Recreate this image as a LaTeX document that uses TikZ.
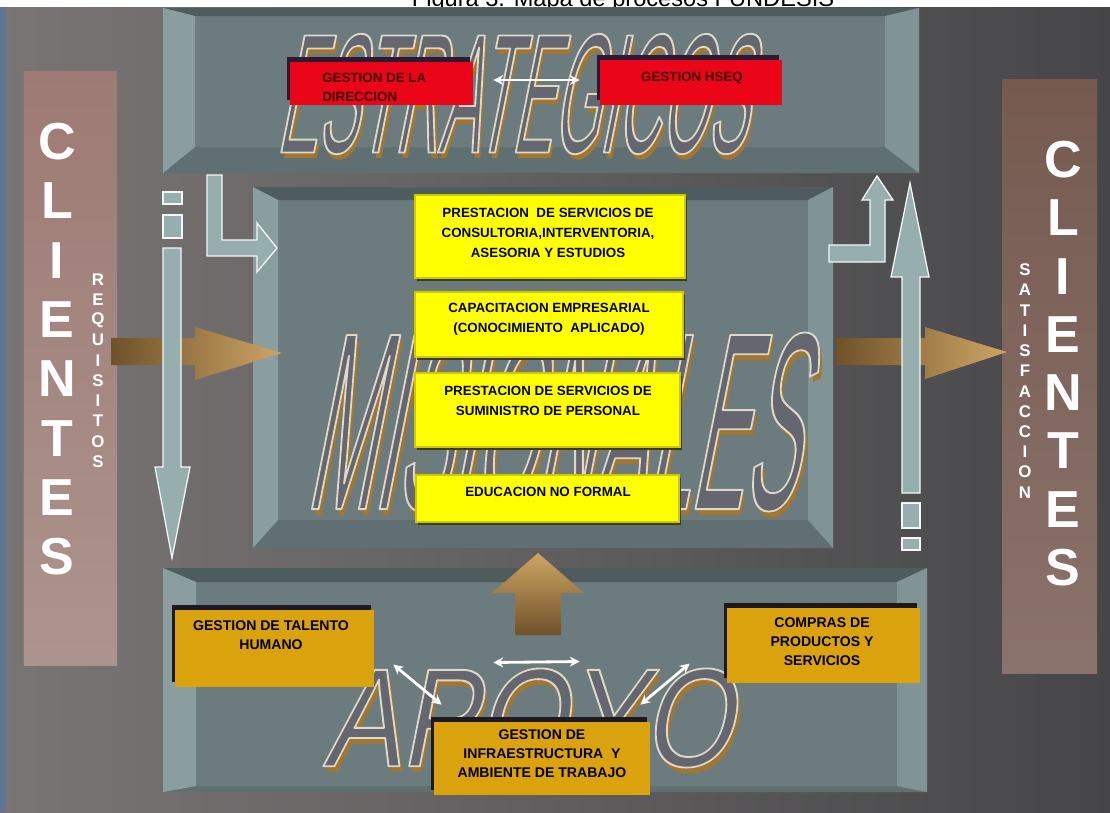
\documentclass[tikz,border=0pt]{standalone}
\usepackage{fontspec}
\setmainfont{Liberation Sans}
\newfontfamily\estrfont[FakeStretch=0.356]{Liberation Sans}
\newfontfamily\misfont[FakeStretch=0.317]{Liberation Sans}
\newfontfamily\apoyofont[FakeStretch=0.82]{Liberation Sans}
\usetikzlibrary{arrows.meta,shadows}
\definecolor{BgLeft}{RGB}{122,117,117}
\definecolor{BgRight}{RGB}{70,70,72}
\definecolor{EdgeBlue}{RGB}{95,115,150}
\definecolor{PanelFace}{RGB}{108,124,126}
\definecolor{PanelTop}{RGB}{78,92,94}
\definecolor{PanelBottom}{RGB}{96,112,114}
\definecolor{PanelLeft}{RGB}{138,158,160}
\definecolor{PanelRight}{RGB}{128,148,150}
\definecolor{CliLeftTop}{RGB}{158,122,116}
\definecolor{CliLeftBot}{RGB}{172,148,142}
\definecolor{CliRightTop}{RGB}{118,90,80}
\definecolor{CliRightBot}{RGB}{138,115,108}
\definecolor{BoxRed}{RGB}{235,5,25}
\definecolor{RedShade}{RGB}{45,25,50}
\definecolor{RedText}{RGB}{60,0,0}
\definecolor{BoxYellow}{RGB}{255,255,0}
\definecolor{YellowEdge}{RGB}{205,200,0}
\definecolor{YellowShade}{RGB}{60,60,35}
\definecolor{BoxGold}{RGB}{218,162,12}
\definecolor{GoldShade}{RGB}{30,25,30}
\definecolor{TanDark}{RGB}{112,82,42}
\definecolor{TanLight}{RGB}{205,165,100}
\definecolor{ArrowLight}{RGB}{150,174,174}
\definecolor{WordFill}{RGB}{100,102,112}
\definecolor{WordTan}{RGB}{160,118,48}

\tikzset{
  redbox/.style={fill=BoxRed, inner sep=0pt, drop shadow={shadow xshift=-2pt, shadow yshift=3.5pt, fill=RedShade, opacity=1}},
  yellowbox/.style={fill=BoxYellow, draw=YellowEdge, line width=1.2pt, inner sep=0pt, drop shadow={shadow xshift=1.5pt, shadow yshift=-2pt, fill=YellowShade, opacity=1}},
  goldbox/.style={fill=BoxGold, inner sep=0pt, drop shadow={shadow xshift=-2pt, shadow yshift=3.5pt, fill=GoldShade, opacity=1}},
  redtext/.style={font=\fontsize{9.5}{13.5}\selectfont\bfseries, text=RedText, align=left, inner sep=0pt},
  yellowtext/.style={font=\fontsize{9.5}{14.2}\selectfont\bfseries, align=center, inner sep=0pt},
  goldtext/.style={font=\fontsize{10}{13.5}\selectfont\bfseries, align=center, inner sep=0pt},
  bigletter/.style={font=\fontsize{37}{37}\selectfont\bfseries, text=white, inner sep=0pt},
  smallletter/.style={font=\fontsize{12}{12}\selectfont\bfseries, text=white, inner sep=0pt},
  clibar/.style={inner sep=0pt, draw=none},
  lightarrow/.style={fill=ArrowLight, draw=white!90!ArrowLight, line width=0.9pt},
  tanarrow/.style={left color=TanDark, right color=TanLight},
  dblarrow/.style={{Stealth[length=7pt,width=7pt]}-{Stealth[length=7pt,width=7pt]}, white, line width=2pt},
  wordbase/.style={inner sep=0pt, xslant=0.2},
  wordshadow/.style={wordbase, text=WordTan},
  wordfill/.style={wordbase, text=WordFill}
}

% bevelled panel: x1 y1 x2 y2 left top right bottom
\newcommand{\bevelpanel}[8]{%
  \fill[PanelFace] (#1,#2) rectangle (#3,#4);%
  \fill[PanelTop] (#1,#2) -- (#3,#2) -- ({#3-#7},{#2+#6}) -- ({#1+#5},{#2+#6}) -- cycle;%
  \fill[PanelBottom] (#1,#4) -- (#3,#4) -- ({#3-#7},{#4-#8}) -- ({#1+#5},{#4-#8}) -- cycle;%
  \fill[PanelLeft] (#1,#2) -- ({#1+#5},{#2+#6}) -- ({#1+#5},{#4-#8}) -- (#1,#4) -- cycle;%
  \fill[PanelRight] (#3,#2) -- ({#3-#7},{#2+#6}) -- ({#3-#7},{#4-#8}) -- (#3,#4) -- cycle;%
}

% outlined word with tan shadow: name x y font text
\newcommand{\wordart}[5]{%
  \node[wordshadow, font=#4] (#1-sh) at ({#2+3},{#3+6}) {#5};%
  \node[wordfill, font=#4] (#1) at (#2,#3) {\special{pdf:literal direct 0.392 0.4 0.439 rg 0.87 0.847 0.784 RG 2 Tr 1.3 w 1 j}#5\special{pdf:literal direct 0 Tr}};%
}

\begin{document}
\begin{tikzpicture}[x=0.025cm, y=-0.025cm]%
\useasboundingbox (0,0) rectangle (1110,812);%
% background
\fill[white] (0,0) rectangle (1110,812);%
\begin{scope}%
\clip (0,0) rectangle (1110,7);%
\node[font=\fontsize{16.8}{18}\selectfont, anchor=base, inner sep=0pt] (title) at (623,6) {Figura 3. Mapa de procesos FUNDESIS};%
\end{scope}%
\shade[left color=BgLeft, right color=BgRight] (0,7) rectangle (1110,812);%
\fill[EdgeBlue] (0,7) rectangle (6,812);%
% panels
\bevelpanel{163}{8}{919}{173}{32}{8}{34}{26}%
\bevelpanel{253}{187}{833}{548}{25}{13}{25}{28}%
\bevelpanel{163}{568}{927}{792}{33}{14}{30}{6}%
% big words
\wordart{estr}{523}{94}{\fontsize{121}{121}\estrfont}{ESTRATEGICOS}%
\wordart{mis}{568}{422}{\fontsize{180}{180}\misfont}{MISIONALES}%
\wordart{apoyo}{537}{718}{\fontsize{99.6}{99.6}\apoyofont}{APOYO}%
% clientes bars
\node[clibar, top color=CliLeftTop, bottom color=CliLeftBot, minimum width=2.325cm, minimum height=14.825cm] (cli-l) at (70.5,368.5) {};%
\node[clibar, top color=CliRightTop, bottom color=CliRightBot, minimum width=2.375cm, minimum height=14.825cm] (cli-r) at (1049.5,376.5) {};%
\node[bigletter] (cl-1) at (57,142) {C};%
\node[bigletter] (cl-2) at (57,201) {L};%
\node[bigletter] (cl-3) at (57,261) {I};%
\node[bigletter] (cl-4) at (57,320) {E};%
\node[bigletter] (cl-5) at (57,379) {N};%
\node[bigletter] (cl-6) at (57,439) {T};%
\node[bigletter] (cl-7) at (57,498) {E};%
\node[bigletter] (cl-8) at (57,557) {S};%
\node[bigletter] (cr-1) at (1063,160) {C};%
\node[bigletter] (cr-2) at (1063,218) {L};%
\node[bigletter] (cr-3) at (1063,277) {I};%
\node[bigletter] (cr-4) at (1063,335) {E};%
\node[bigletter] (cr-5) at (1063,393) {N};%
\node[bigletter] (cr-6) at (1063,451) {T};%
\node[bigletter] (cr-7) at (1063,510) {E};%
\node[bigletter] (cr-8) at (1063,568) {S};%
\node[smallletter] (rq-1) at (98,280) {R};%
\node[smallletter] (rq-2) at (98,300) {E};%
\node[smallletter] (rq-3) at (98,320) {Q};%
\node[smallletter] (rq-4) at (98,340) {U};%
\node[smallletter] (rq-5) at (98,361) {I};%
\node[smallletter] (rq-6) at (98,381) {S};%
\node[smallletter] (rq-7) at (98,401) {I};%
\node[smallletter] (rq-8) at (98,421) {T};%
\node[smallletter] (rq-9) at (98,442) {O};%
\node[smallletter] (rq-10) at (98,462) {S};%
\node[smallletter] (st-1) at (1025,270) {S};%
\node[smallletter] (st-2) at (1025,290) {A};%
\node[smallletter] (st-3) at (1025,311) {T};%
\node[smallletter] (st-4) at (1025,331) {I};%
\node[smallletter] (st-5) at (1025,351) {S};%
\node[smallletter] (st-6) at (1025,371) {F};%
\node[smallletter] (st-7) at (1025,392) {A};%
\node[smallletter] (st-8) at (1025,412) {C};%
\node[smallletter] (st-9) at (1025,432) {C};%
\node[smallletter] (st-10) at (1025,452) {I};%
\node[smallletter] (st-11) at (1025,472) {O};%
\node[smallletter] (st-12) at (1025,493) {N};%
% tan arrows
\shade[tanarrow] (111,338) -- (195,338) -- (195,327) -- (282,353) -- (195,380) -- (195,365) -- (111,365) -- cycle;%
\shade[tanarrow] (836,338) -- (925,338) -- (925,327) -- (1007,352) -- (925,379) -- (925,365) -- (836,365) -- cycle;%
\shade[top color=TanLight, bottom color=TanDark] (515,635) -- (515,593) -- (492,593) -- (538,553) -- (584,593) -- (561,593) -- (561,635) -- cycle;%
% light arrows
\draw[lightarrow] (163,192) rectangle (182,204);%
\draw[lightarrow] (163,215) rectangle (182,238);%
\draw[lightarrow] (163,248) -- (181,248) -- (181,467) -- (190,467) -- (172,558) -- (155,467) -- (163,467) -- cycle;%
\draw[lightarrow] (207,175) -- (222,175) -- (222,240) -- (257,240) -- (257,223) -- (277,248) -- (257,272) -- (257,256) -- (207,256) -- cycle;%
\draw[lightarrow] (902,503) rectangle (920,528);%
\draw[lightarrow] (902,538) rectangle (920,550);%
\draw[lightarrow] (902,493) -- (920,493) -- (920,277) -- (929,277) -- (910,183) -- (891,277) -- (902,277) -- cycle;%
\draw[lightarrow] (829,245) -- (870,245) -- (870,200) -- (862,200) -- (877,176) -- (893,200) -- (885,200) -- (885,262) -- (829,262) -- cycle;%
% estrategicos
\node[redbox, minimum width=4.575cm, minimum height=1.075cm] (dir) at (381.5,83.5) {};%
\node[redbox, minimum width=4.55cm, minimum height=1.125cm] (hseq) at (691,82.5) {};%
\node[redtext, anchor=west] (dir-t) at (322,87) {GESTION DE LA\\DIRECCION};%
\node[redtext] (hseq-t) at (692,78) {GESTION HSEQ};%
% misionales
\node[yellowbox, minimum width=6.75cm, minimum height=2.075cm] (cons) at (550,236.5) {};%
\node[yellowbox, minimum width=6.7cm, minimum height=1.625cm] (capa) at (549,324.5) {};%
\node[yellowbox, minimum width=6.625cm, minimum height=1.85cm] (sumi) at (547.5,410) {};%
\node[yellowbox, minimum width=6.575cm, minimum height=1.175cm] (educ) at (547.5,498.5) {};%
\node[yellowtext] (cons-t) at (548,233) {PRESTACION\ \ DE SERVICIOS DE\\CONSULTORIA,INTERVENTORIA,\\ASESORIA Y ESTUDIOS};%
\node[yellowtext] (capa-t) at (549,319) {CAPACITACION EMPRESARIAL\\(CONOCIMIENTO\ \ APLICADO)};%
\node[yellowtext] (sumi-t) at (548,401) {PRESTACION DE SERVICIOS DE\\SUMINISTRO DE PERSONAL};%
\node[yellowtext] (educ-t) at (548,492) {EDUCACION NO FORMAL};%
% apoyo
\node[goldbox, minimum width=4.975cm, minimum height=1.925cm] (tale) at (274.5,648.5) {};%
\node[goldbox, minimum width=4.825cm, minimum height=1.875cm] (comp) at (823.5,645.5) {};%
\node[goldbox, minimum width=5.4cm, minimum height=1.825cm] (infra) at (542,758.5) {};%
\node[goldtext] (tale-t) at (271,635) {GESTION DE TALENTO\\HUMANO};%
\node[goldtext] (comp-t) at (822,642) {COMPRAS DE\\PRODUCTOS Y\\SERVICIOS};%
\node[goldtext] (infra-t) at (542,754) {GESTION DE\\INFRAESTRUCTURA\ \ Y\\AMBIENTE DE TRABAJO};%
% double arrows
\draw[dblarrow] ([shift={(20,-3.5)}]dir.east) -- ([shift={(-20,-2.5)}]hseq.west);%
\draw[dblarrow] ([shift={(119,14)}]tale.east) -- ([shift={(-147,16)}]comp.west);%
\draw[dblarrow] ([shift={(19,16)}]tale.east) -- ([shift={(8,-17)}]infra.north west);%
\draw[dblarrow] ([shift={(-37,18)}]comp.west) -- ([shift={(-10,-17)}]infra.north east);%
\end{tikzpicture}
\end{document}
